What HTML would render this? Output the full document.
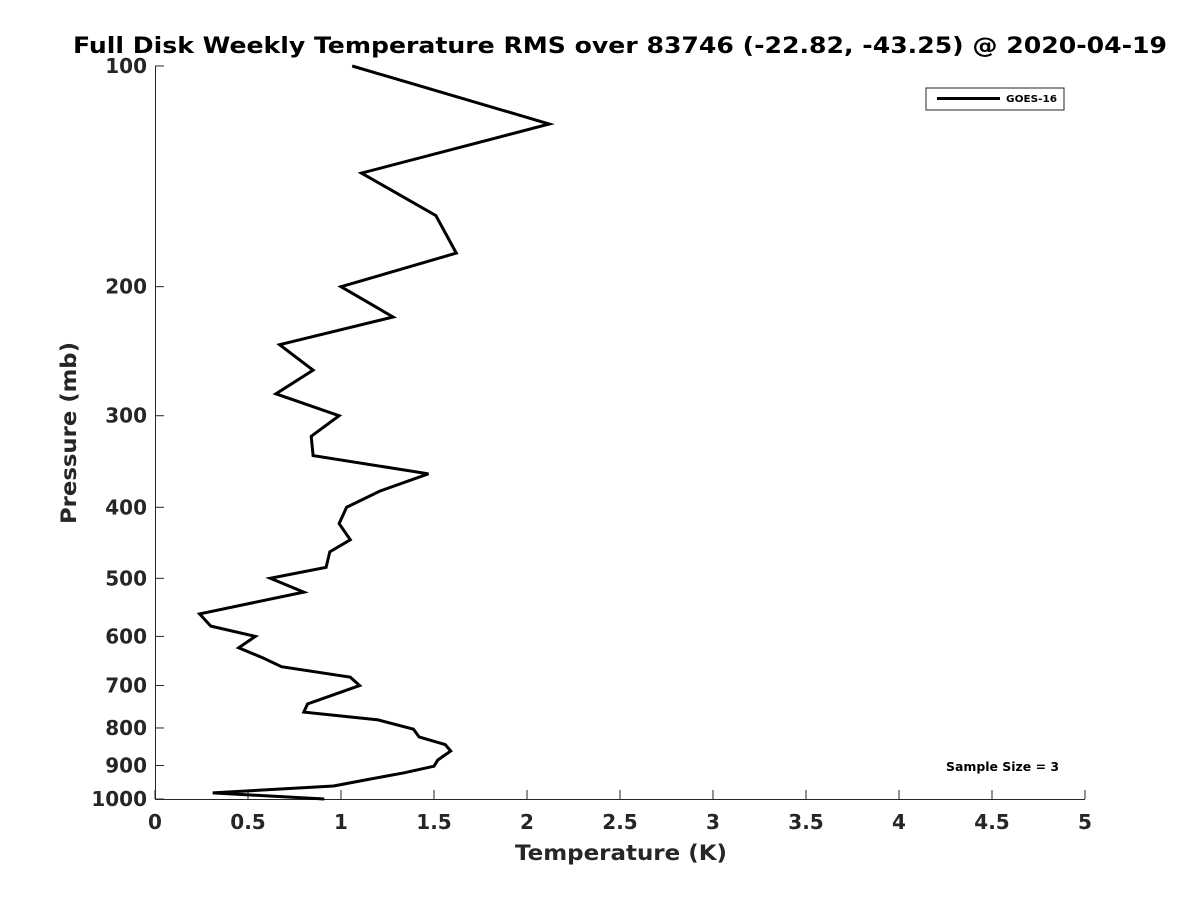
<!DOCTYPE html>
<html><head><meta charset="utf-8"><style>
body{margin:0;background:#fff;}
svg text{font-family:"DejaVu Sans","Liberation Sans",sans-serif;font-weight:bold;fill:#262626;}
</style></head><body>
<svg id="c" width="1200" height="900" xmlns="http://www.w3.org/2000/svg">
<rect width="1200" height="900" fill="#fff"/>
<text x="73" y="53" font-size="22" textLength="1094" lengthAdjust="spacingAndGlyphs" style="fill:#000">Full Disk Weekly Temperature RMS over 83746 (-22.82, -43.25) @ 2020-04-19</text>
<g id="axes"></g>
<text x="515" y="860" font-size="21" textLength="212" lengthAdjust="spacingAndGlyphs">Temperature (K)</text>
<text transform="translate(76,524) rotate(-90)" font-size="21" textLength="182" lengthAdjust="spacingAndGlyphs">Pressure (mb)</text>
<g>
<rect x="926" y="88" width="138" height="22" fill="#fff" stroke="#262626" stroke-width="1"/>
<line x1="937" y1="98.5" x2="1000" y2="98.5" stroke="#000" stroke-width="3"/>
<text x="1006" y="102" font-size="10" textLength="51" lengthAdjust="spacingAndGlyphs" style="fill:#000">GOES-16</text>
</g>
<text x="946" y="771" font-size="12" textLength="113" lengthAdjust="spacingAndGlyphs" style="fill:#000">Sample Size = 3</text>
</svg>
<script>
const xTicks=[0,0.5,1,1.5,2,2.5,3,3.5,4,4.5,5];
const xTickLabels=["0","0.5","1","1.5","2","2.5","3","3.5","4","4.5","5"];
const yTicks=[100,200,300,400,500,600,700,800,900,1000];
const pressures=[100,120,140,160,180,200,220,240,260,280,300,320,340,360,380,400,421,443,460,483,500,522,559,581,600,622,642,660,682,700,742,761,780,803,823,843,860,885,902,921,942,960,981,1000];
const temps=[1.06,2.12,1.11,1.51,1.62,1.0,1.28,0.67,0.85,0.65,0.99,0.84,0.85,1.47,1.21,1.03,0.99,1.05,0.94,0.92,0.62,0.80,0.24,0.30,0.54,0.45,0.58,0.68,1.05,1.10,0.82,0.80,1.20,1.39,1.42,1.56,1.59,1.52,1.50,1.34,1.13,0.96,0.31,0.91];
const X0=155,X1=1085,Y0=66,Y1=799;
const xs=v=>X0+(v-0)/(5-0)*(X1-X0);
const ys=p=>Y0+(Math.log10(p)-2)*(Y1-Y0);
const NS="http://www.w3.org/2000/svg";
const svg=document.getElementById('c');
const g=document.getElementById('axes');
function mk(t,a,parent){const e=document.createElementNS(NS,t);for(const k in a)e.setAttribute(k,a[k]);(parent||g).appendChild(e);return e;}
const xa=mk('line',{x1:X0,y1:Y1+0.5,x2:X1,y2:Y1+0.5,stroke:'#262626','stroke-width':1});


const ya=mk('line',{x1:X0+0.5,y1:Y0,x2:X0+0.5,y2:Y1,stroke:'#262626','stroke-width':1});


xTicks.forEach((v,i)=>{
  const x=xs(v);
  const t=mk('line',{x1:x,y1:Y1,x2:x,y2:Y1-9,stroke:'#262626'});
  
  
  const l=mk('text',{x:x,y:Y1+30,'font-size':20,'text-anchor':'middle'});
  l.textContent=xTickLabels[i];
  
  
});
yTicks.forEach(p=>{
  const y=ys(p);
  const t=mk('line',{x1:X0,y1:y,x2:X0+9,y2:y,stroke:'#262626'});
  
  
  const l=mk('text',{x:X0-8,y:y+7,'font-size':20,'text-anchor':'end'});
  l.textContent=String(p);
  
  
});
const pts=pressures.map((p,i)=>xs(temps[i]).toFixed(1)+','+ys(p).toFixed(1)).join(' ');
const line=mk('polyline',{points:pts,fill:'none',stroke:'#000','stroke-width':3,'stroke-linejoin':'miter'},svg);


</script>
</body></html>
